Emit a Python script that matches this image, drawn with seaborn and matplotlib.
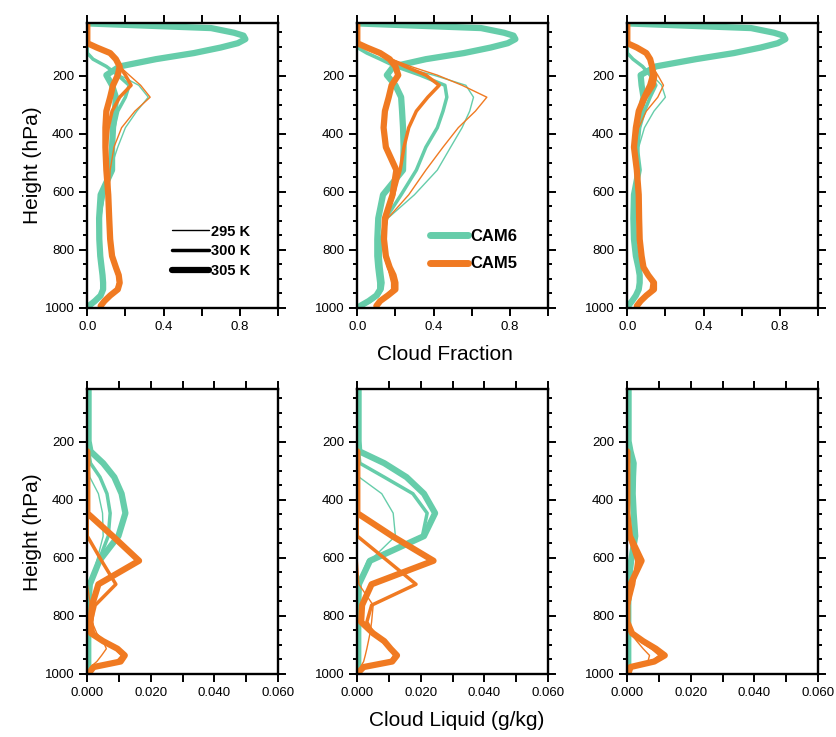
import numpy as np
import pandas as pd
import matplotlib
matplotlib.use("Agg")
import matplotlib.pyplot as plt
import seaborn as sns
from matplotlib.lines import Line2D
from matplotlib.ticker import FixedLocator, MultipleLocator

sns.set_theme(style="white")
plt.rcParams["font.family"] = ["Liberation Sans", "DejaVu Sans"]
plt.rcParams["text.color"] = "black"
plt.rcParams["axes.labelcolor"] = "black"
plt.rcParams["xtick.color"] = "black"
plt.rcParams["ytick.color"] = "black"

N = np.nan
# model levels (hPa)
pressure = [20, 36, 52, 62, 74, 88, 103, 122, 143, 168, 198, 233, 274, 322,
            379, 446, 525, 610, 691, 763, 821, 860, 887, 913, 936, 957, 976, 993]
models = ["CAM6", "CAM5"]
temps = [295, 300, 305]
temp_labels = ["295 K", "300 K", "305 K"]

# ---- Cloud fraction, left / middle / right panels ----
cf_l_cam6_295 = [0, 0, 0, 0, 0, 0, 0, 0, 0.03, 0.10, 0.17, 0.27, 0.32, 0.26, 0.20, 0.16, 0.12, 0.09, 0.068, 0.064, 0.066, 0.072, 0.078, 0.08, 0.08, 0.068, 0.04, 0.008]
cf_l_cam6_300 = [0, 0, 0, 0, 0, 0, 0, 0, 0.03, 0.10, 0.16, 0.22, 0.20, 0.16, 0.14, 0.13, 0.12, 0.085, 0.065, 0.062, 0.065, 0.072, 0.078, 0.08, 0.08, 0.068, 0.04, 0.008]
cf_l_cam6_305 = [0, 0.65, 0.77, 0.82, 0.83, 0.79, 0.70, 0.56, 0.36, 0.17, 0.10, 0.13, 0.15, 0.145, 0.135, 0.13, 0.13, 0.07, 0.062, 0.063, 0.068, 0.075, 0.08, 0.083, 0.083, 0.07, 0.04, 0.008]
cf_l_cam5_295 = [0, 0, 0, 0, 0, 0, 0.05, 0.12, 0.15, 0.17, 0.22, 0.28, 0.33, 0.25, 0.18, 0.14, 0.12, 0.115, 0.115, 0.12, 0.13, 0.15, 0.16, 0.16, 0.15, 0.12, 0.09, 0.07]
cf_l_cam5_300 = [0, 0, 0, 0, 0, 0, 0.05, 0.12, 0.15, 0.17, 0.20, 0.23, 0.17, 0.13, 0.11, 0.10, 0.10, 0.11, 0.115, 0.12, 0.13, 0.15, 0.16, 0.165, 0.155, 0.12, 0.09, 0.07]
cf_l_cam5_305 = [0, 0, 0, 0, 0, 0, 0.05, 0.12, 0.15, 0.17, 0.16, 0.135, 0.12, 0.10, 0.095, 0.095, 0.10, 0.11, 0.115, 0.12, 0.13, 0.15, 0.165, 0.17, 0.16, 0.12, 0.09, 0.07]

cf_m_cam6_295 = [0, 0, 0, 0, 0, 0, 0, 0.06, 0.13, 0.22, 0.40, 0.57, 0.61, 0.59, 0.55, 0.49, 0.42, 0.30, 0.16, 0.13, 0.125, 0.125, 0.13, 0.135, 0.13, 0.11, 0.07, 0.02]
cf_m_cam6_300 = [0, 0, 0, 0, 0, 0, 0, 0.05, 0.12, 0.20, 0.33, 0.46, 0.47, 0.45, 0.42, 0.36, 0.31, 0.23, 0.15, 0.125, 0.12, 0.125, 0.13, 0.135, 0.13, 0.11, 0.07, 0.02]
cf_m_cam6_305 = [0, 0.65, 0.77, 0.82, 0.83, 0.79, 0.70, 0.56, 0.36, 0.19, 0.155, 0.20, 0.23, 0.235, 0.24, 0.243, 0.24, 0.135, 0.11, 0.105, 0.105, 0.11, 0.115, 0.12, 0.12, 0.10, 0.06, 0.015]
cf_m_cam5_295 = [0, 0, 0, 0, 0, 0, 0.05, 0.12, 0.18, 0.28, 0.42, 0.55, 0.68, 0.62, 0.53, 0.45, 0.36, 0.27, 0.16, 0.14, 0.145, 0.16, 0.17, 0.18, 0.18, 0.15, 0.11, 0.10]
cf_m_cam5_300 = [0, 0, 0, 0, 0, 0, 0.05, 0.12, 0.17, 0.25, 0.36, 0.43, 0.37, 0.31, 0.27, 0.245, 0.225, 0.19, 0.15, 0.14, 0.145, 0.165, 0.18, 0.19, 0.19, 0.16, 0.12, 0.10]
cf_m_cam5_305 = [0, 0, 0, 0, 0, 0, 0.05, 0.12, 0.17, 0.20, 0.215, 0.18, 0.165, 0.145, 0.138, 0.15, 0.205, 0.185, 0.145, 0.14, 0.15, 0.17, 0.19, 0.20, 0.20, 0.16, 0.12, 0.10]

cf_r_cam6_295 = [0, 0, 0, 0, 0, 0, 0, 0, 0.03, 0.08, 0.13, 0.18, 0.20, 0.14, 0.09, 0.06, 0.05, 0.04, 0.035, 0.037, 0.045, 0.057, 0.063, 0.063, 0.058, 0.045, 0.025, 0.005]
cf_r_cam6_300 = [0, 0, 0, 0, 0, 0, 0, 0, 0.03, 0.08, 0.12, 0.15, 0.12, 0.09, 0.065, 0.055, 0.05, 0.04, 0.035, 0.037, 0.045, 0.057, 0.063, 0.063, 0.058, 0.045, 0.025, 0.005]
cf_r_cam6_305 = [0, 0.65, 0.77, 0.82, 0.83, 0.79, 0.70, 0.56, 0.36, 0.15, 0.07, 0.075, 0.085, 0.07, 0.055, 0.045, 0.06, 0.035, 0.032, 0.035, 0.045, 0.058, 0.065, 0.065, 0.06, 0.045, 0.025, 0.005]
cf_r_cam5_295 = [0, 0, 0, 0, 0, 0, 0.05, 0.10, 0.12, 0.13, 0.16, 0.19, 0.16, 0.10, 0.06, 0.04, 0.05, 0.06, 0.062, 0.065, 0.075, 0.085, 0.105, 0.125, 0.12, 0.09, 0.07, 0.05]
cf_r_cam5_300 = [0, 0, 0, 0, 0, 0, 0.05, 0.10, 0.12, 0.13, 0.15, 0.14, 0.10, 0.065, 0.045, 0.035, 0.05, 0.06, 0.062, 0.065, 0.075, 0.085, 0.11, 0.135, 0.13, 0.10, 0.07, 0.05]
cf_r_cam5_305 = [0, 0, 0, 0, 0, 0, 0.05, 0.10, 0.12, 0.13, 0.135, 0.12, 0.09, 0.06, 0.045, 0.035, 0.05, 0.06, 0.062, 0.065, 0.075, 0.085, 0.11, 0.14, 0.14, 0.10, 0.07, 0.05]

# ---- Cloud liquid (g/kg), left / middle / right panels ----
cl_l_cam6_295 = [.0004, .0004, .0004, .0004, .0004, .0004, .0004, .0004, .0004, .0004, .0004, .0004, .0004, .0008, .0035, .0048, .0050, .0030, .0008, .0003, .0003, .0003, .0003, .0003, .0003, .0003, .0003, .0003]
cl_l_cam6_300 = [.0004, .0004, .0004, .0004, .0004, .0004, .0004, .0004, .0004, .0004, .0004, .0004, .0010, .0040, .0062, .0072, .0066, .0036, .0008, .0003, .0003, .0003, .0003, .0003, .0003, .0003, .0003, .0003]
cl_l_cam6_305 = [.0004, .0004, .0004, .0004, .0004, .0004, .0004, .0004, .0004, .0004, .0004, .0010, .0050, .0085, .0108, .0120, .0098, .0038, .0008, .0003, .0003, .0003, .0003, .0003, .0003, .0003, .0003, .0003]
cl_l_cam5_295 = [N, N, N, N, N, N, N, N, N, N, N, 0, 0, 0, 0, 0, 0, 0, 0, .0010, .0015, .0030, .0050, .0060, .0045, .0030, .0010, .0003]
cl_l_cam5_300 = [N, N, N, N, N, N, N, N, N, N, N, 0, 0, 0, 0, 0, 0, .0045, .0090, .0025, .0012, .0020, .0050, .0090, .0112, .0095, .0020, .0008]
cl_l_cam5_305 = [N, N, N, N, N, N, N, N, N, N, N, 0, 0, 0, 0, 0, .0080, .0163, .0035, .0015, .0010, .0012, .0050, .0095, .0118, .0105, .0020, .0008]

cl_m_cam6_295 = [.0004, .0004, .0004, .0004, .0004, .0004, .0004, .0004, .0004, .0004, .0004, .0004, .0004, .0006, .0077, .0113, .0120, .0040, .0005, .0003, .0003, .0003, .0003, .0003, .0003, .0003, .0003, .0003]
cl_m_cam6_300 = [.0004, .0004, .0004, .0004, .0004, .0004, .0004, .0004, .0004, .0004, .0004, .0004, .0008, .0085, .0175, .0220, .0205, .0035, .0005, .0003, .0003, .0003, .0003, .0003, .0003, .0003, .0003, .0003]
cl_m_cam6_305 = [.0004, .0004, .0004, .0004, .0004, .0004, .0004, .0004, .0004, .0004, .0004, .0006, .0085, .0155, .0210, .0245, .0210, .0040, .0005, .0003, .0003, .0003, .0003, .0003, .0003, .0003, .0003, .0003]
cl_m_cam5_295 = [N, N, N, N, N, N, N, N, N, N, N, 0, 0, 0, 0, 0, 0, 0, .0005, .0050, .0045, .0040, .0035, .0030, .0025, .0020, .0010, .0003]
cl_m_cam5_300 = [N, N, N, N, N, N, N, N, N, N, N, 0, 0, 0, 0, 0, 0, .0095, .0185, .0045, .0030, .0050, .0080, .0105, .0118, .0105, .0020, .0005]
cl_m_cam5_305 = [N, N, N, N, N, N, N, N, N, N, N, 0, 0, 0, 0, 0, .0110, .0240, .0045, .0015, .0012, .0050, .0085, .0105, .0125, .0110, .0020, .0005]

cl_r_cam6_295 = [.0004, .0004, .0004, .0004, .0004, .0004, .0004, .0004, .0004, .0004, .0004, .0004, .0012, .0014, .0013, .0016, .0020, .0010, .0004, .0003, .0003, .0003, .0003, .0003, .0003, .0003, .0003, .0003]
cl_r_cam6_300 = [.0004, .0004, .0004, .0004, .0004, .0004, .0004, .0004, .0004, .0004, .0004, .0008, .0016, .0016, .0015, .0018, .0022, .0010, .0004, .0003, .0003, .0003, .0003, .0003, .0003, .0003, .0003, .0003]
cl_r_cam6_305 = [.0004, .0004, .0004, .0004, .0004, .0004, .0004, .0004, .0004, .0004, .0004, .0010, .0020, .0018, .0017, .0020, .0025, .0012, .0004, .0003, .0003, .0003, .0003, .0003, .0003, .0003, .0003, .0003]
cl_r_cam5_295 = [N, N, N, N, N, N, N, N, N, N, N, 0, 0, 0, 0, 0, 0, 0, 0, 0, 0, .0010, .0030, .0050, .0070, .0065, .0015, .0003]
cl_r_cam5_300 = [N, N, N, N, N, N, N, N, N, N, N, 0, 0, 0, 0, 0, .0005, .0030, .0020, .0003, 0, .0015, .0045, .0080, .0105, .0080, .0015, .0005]
cl_r_cam5_305 = [N, N, N, N, N, N, N, N, N, N, N, 0, 0, 0, 0, 0, .0008, .0045, .0010, 0, 0, .0015, .0050, .0090, .0118, .0085, .0010, .0005]

panels_cf = [
    {("CAM6", 295): cf_l_cam6_295, ("CAM6", 300): cf_l_cam6_300, ("CAM6", 305): cf_l_cam6_305,
     ("CAM5", 295): cf_l_cam5_295, ("CAM5", 300): cf_l_cam5_300, ("CAM5", 305): cf_l_cam5_305},
    {("CAM6", 295): cf_m_cam6_295, ("CAM6", 300): cf_m_cam6_300, ("CAM6", 305): cf_m_cam6_305,
     ("CAM5", 295): cf_m_cam5_295, ("CAM5", 300): cf_m_cam5_300, ("CAM5", 305): cf_m_cam5_305},
    {("CAM6", 295): cf_r_cam6_295, ("CAM6", 300): cf_r_cam6_300, ("CAM6", 305): cf_r_cam6_305,
     ("CAM5", 295): cf_r_cam5_295, ("CAM5", 300): cf_r_cam5_300, ("CAM5", 305): cf_r_cam5_305},
]
panels_cl = [
    {("CAM6", 295): cl_l_cam6_295, ("CAM6", 300): cl_l_cam6_300, ("CAM6", 305): cl_l_cam6_305,
     ("CAM5", 295): cl_l_cam5_295, ("CAM5", 300): cl_l_cam5_300, ("CAM5", 305): cl_l_cam5_305},
    {("CAM6", 295): cl_m_cam6_295, ("CAM6", 300): cl_m_cam6_300, ("CAM6", 305): cl_m_cam6_305,
     ("CAM5", 295): cl_m_cam5_295, ("CAM5", 300): cl_m_cam5_300, ("CAM5", 305): cl_m_cam5_305},
    {("CAM6", 295): cl_r_cam6_295, ("CAM6", 300): cl_r_cam6_300, ("CAM6", 305): cl_r_cam6_305,
     ("CAM5", 295): cl_r_cam5_295, ("CAM5", 300): cl_r_cam5_300, ("CAM5", 305): cl_r_cam5_305},
]

palette = {"CAM6": "#66CDAA", "CAM5": "#F07A22"}
widths = {295: 1.0, 300: 2.5, 305: 4.5}


def to_frame(panel):
    rows = []
    for (m, t), vals in panel.items():
        for p, v in zip(pressure, vals):
            rows.append({"model": m, "temp": t, "p": p, "value": v})
    return pd.DataFrame(rows).dropna()


W, H = 836, 737
fig = plt.figure(figsize=(W / 100, H / 100), dpi=100, facecolor="white")
col_x = [87.3, 357.3, 627.3]
ax_w = 190.5
row_top = [23.3, 389.3]
ax_h = 284.7

cf_ticks = [0, 0.2, 0.4, 0.6, 0.8, 1.0]
cf_labels = ["0.0", "", "0.4", "", "0.8", ""]
cl_ticks = [0, 0.01, 0.02, 0.03, 0.04, 0.05, 0.06]
cl_labels = ["0.000", "", "0.020", "", "0.040", "", "0.060"]

axes = []
for r, panels in enumerate([panels_cf, panels_cl]):
    for c in range(3):
        ax = fig.add_axes([col_x[c] / W, 1 - (row_top[r] + ax_h) / H, ax_w / W, ax_h / H])
        df = to_frame(panels[c])
        sns.lineplot(data=df, x="value", y="p", hue="model", hue_order=models,
                     size="temp", sizes=widths, size_order=temps, palette=palette,
                     sort=False, estimator=None, legend=False, ax=ax)
        ax.set_ylim(1000, 19.5)
        if r == 0:
            ax.set_xlim(0, 1.0)
            ax.xaxis.set_major_locator(FixedLocator(cf_ticks))
            ax.set_xticklabels(cf_labels)
        else:
            ax.set_xlim(0, 0.06)
            ax.xaxis.set_major_locator(FixedLocator(cl_ticks))
            ax.set_xticklabels(cl_labels)
        ax.yaxis.set_major_locator(FixedLocator([200, 400, 600, 800, 1000]))
        ax.yaxis.set_minor_locator(MultipleLocator(50))
        ax.set_xlabel("")
        ax.set_ylabel("")
        ax.grid(False)
        for s in ax.spines.values():
            s.set_linewidth(1.7)
            s.set_color("black")
        ax.tick_params(which="both", direction="out", top=True, right=True,
                       bottom=True, left=True, width=1.4, color="black",
                       labelsize=9.5, labelcolor="black", pad=3.5)
        ax.tick_params(which="major", length=6)
        ax.tick_params(axis="y", which="minor", length=3.2)
        ax.tick_params(axis="x", which="minor", length=0)
        axes.append(ax)

# width legend (top-left panel)
h1 = [Line2D([], [], color="black", lw=widths[t]) for t in temps]
axes[0].legend(h1, temp_labels, loc="upper left", bbox_to_anchor=(0.445, 0.293),
               frameon=False, prop={"weight": "bold", "size": 10.5},
               handlelength=2.5, handletextpad=0.2, labelspacing=0.38,
               borderpad=0, borderaxespad=0, labelcolor="black")
# model legend (top-middle panel)
h2 = [Line2D([], [], color=palette[m], lw=5) for m in models]
axes[1].legend(h2, models, loc="upper left", bbox_to_anchor=(0.381, 0.278),
               frameon=False, prop={"weight": "bold", "size": 12},
               handlelength=2.3, handletextpad=0.1, labelspacing=0.75,
               borderpad=0, borderaxespad=0, labelcolor="black")

fig.text(444.5 / W, 1 - 355 / H, "Cloud Fraction", ha="center", va="center", fontsize=15, color="black")
fig.text(457 / W, 1 - 720 / H, "Cloud Liquid (g/kg)", ha="center", va="center", fontsize=15, color="black")
fig.text(32 / W, 1 - 165.5 / H, "Height (hPa)", ha="center", va="center", rotation=90, fontsize=15, color="black")
fig.text(32 / W, 1 - 532 / H, "Height (hPa)", ha="center", va="center", rotation=90, fontsize=15, color="black")

fig.savefig("out.png", dpi=100, facecolor="white")
